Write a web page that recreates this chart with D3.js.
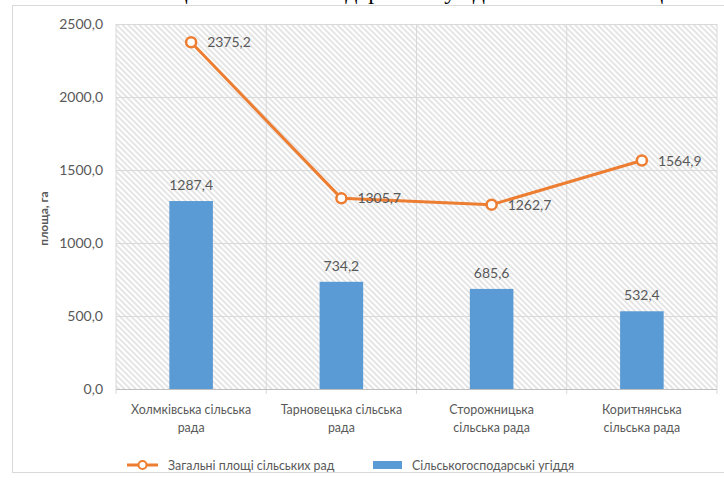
<!DOCTYPE html>
<html>
<head>
<meta charset="utf-8">
<script src="https://cdn.jsdelivr.net/npm/d3@7"></script>
<style>
  html, body { margin: 0; padding: 0; background: #fff; }
  svg { display: block; }
  text { font-family: Lato, "Open Sans", sans-serif; fill: #595959; }
</style>
</head>
<body>
<svg id="chart" width="724" height="487"></svg>
<script>
// chart data
const categories = [
  ["Холмківська сільська", "рада"],
  ["Тарновецька сільська", "рада"],
  ["Сторожницька", "сільська рада"],
  ["Коритнянська", "сільська рада"]
];
const totalArea = [2375.2, 1305.7, 1262.7, 1564.9];   // Загальні площі сільських рад
const farmland = [1287.4, 734.2, 685.6, 532.4];       // Сільськогосподарські угіддя
const yTicks = [0, 500, 1000, 1500, 2000, 2500];
const seriesNames = ["Загальні площі сільських рад", "Сільськогосподарські угіддя"];

const plot = { left: 116, right: 717, top: 24, bottom: 389 };
const orange = "#ED7D31", blue = "#5B9BD5";

const svg = d3.select("#chart");
const fmt = v => d3.format(".1f")(v).replace(".", ",");

// hatch pattern for plot background
const defs = svg.append("defs");
defs.append("pattern")
    .attr("id", "hatch")
    .attr("patternUnits", "userSpaceOnUse")
    .attr("width", 4).attr("height", 4)
    .attr("patternTransform", "rotate(-45)")
  .append("line")
    .attr("x1", 1).attr("y1", 0).attr("x2", 1).attr("y2", 4)
    .attr("stroke", "#d4d4d4").attr("stroke-width", 1.2);

// cut-off caption line of the page above the chart
svg.append("text")
    .attr("x", 128).attr("y", -1)
    .style("font-family", "'Liberation Serif', serif")
    .style("font-size", "24px")
    .style("fill", "#000")
    .text("Площа сільськогосподарських угідь і загальна площа сільських рад");

// chart frame
svg.append("rect")
    .attr("x", 12.5).attr("y", 5.5)
    .attr("width", 730).attr("height", 467)
    .attr("fill", "#fff")
    .attr("stroke", "#d9d9d9");

const x = d3.scaleBand()
    .domain(d3.range(categories.length))
    .range([plot.left, plot.right])
    .padding(0);

const y = d3.scaleLinear()
    .domain([0, 2500])
    .range([plot.bottom, plot.top]);

// plot background
svg.append("rect")
    .attr("x", plot.left).attr("y", plot.top)
    .attr("width", plot.right - plot.left)
    .attr("height", plot.bottom - plot.top)
    .attr("fill", "url(#hatch)");

// horizontal gridlines + labels
const yAxis = svg.append("g")
    .attr("transform", `translate(${plot.left},0)`)
    .call(d3.axisLeft(y).tickValues(yTicks).tickFormat(fmt)
        .tickSize(-(plot.right - plot.left)).tickPadding(13));
yAxis.select(".domain").remove();
yAxis.selectAll(".tick line").attr("stroke", "#d9d9d9");
yAxis.selectAll(".tick text")
    .style("font-size", "14px")
    .style("font-family", "Lato, sans-serif")
    .attr("fill", "#595959");

// vertical gridlines at band edges
const edges = d3.range(categories.length + 1).map(i => i < categories.length ? x(i) : x(i - 1) + x.bandwidth());
svg.append("g").selectAll("line")
    .data(edges)
    .join("line")
    .attr("x1", d => d).attr("x2", d => d)
    .attr("y1", plot.top).attr("y2", plot.bottom + 5)
    .attr("stroke", "#d9d9d9");

// x axis baseline
svg.append("line")
    .attr("x1", plot.left).attr("x2", plot.right)
    .attr("y1", plot.bottom + 0.5).attr("y2", plot.bottom + 0.5)
    .attr("stroke", "#bfbfbf");

// bars
const barW = x.bandwidth() * 0.29;
svg.append("g").selectAll("rect")
    .data(farmland)
    .join("rect")
    .attr("x", (d, i) => x(i) + x.bandwidth() / 2 - barW / 2)
    .attr("y", d => y(d))
    .attr("width", barW)
    .attr("height", d => y(0) - y(d))
    .attr("fill", blue);

svg.append("g").selectAll("text")
    .data(farmland)
    .join("text")
    .attr("x", (d, i) => x(i) + x.bandwidth() / 2)
    .attr("y", d => y(d) - 11)
    .attr("text-anchor", "middle")
    .style("font-size", "14px")
    .text(fmt);

// line series
const cx = i => x(i) + x.bandwidth() / 2;
svg.append("path")
    .datum(totalArea)
    .attr("fill", "none")
    .attr("stroke", orange)
    .attr("stroke-width", 3)
    .attr("stroke-linejoin", "round")
    .attr("d", d3.line().x((d, i) => cx(i)).y(d => y(d)));

svg.append("g").selectAll("circle")
    .data(totalArea)
    .join("circle")
    .attr("cx", (d, i) => cx(i))
    .attr("cy", d => y(d))
    .attr("r", 5)
    .attr("fill", "#fff")
    .attr("stroke", orange)
    .attr("stroke-width", 2.5);

svg.append("g").selectAll("text")
    .data(totalArea)
    .join("text")
    .attr("x", (d, i) => cx(i) + 16)
    .attr("y", d => y(d) + 5)
    .style("font-size", "14px")
    .text(fmt);

// category labels
const cat = svg.append("g").selectAll("text")
    .data(categories)
    .join("text")
    .attr("text-anchor", "middle")
    .style("font-size", "12.4px");
cat.selectAll("tspan")
    .data((d, i) => d.map(s => ({ s, i })))
    .join("tspan")
    .attr("x", d => cx(d.i))
    .attr("y", (d, j) => 414 + j * 18)
    .text(d => d.s);

// y axis title
svg.append("text")
    .attr("transform", `translate(48,${(plot.top + plot.bottom) / 2 + 12}) rotate(-90)`)
    .attr("text-anchor", "middle")
    .style("font-size", "12px")
    .style("font-weight", "bold")
    .text("площа, га");

// legend
const lg = svg.append("g");
lg.append("line")
    .attr("x1", 127).attr("x2", 158)
    .attr("y1", 465).attr("y2", 465)
    .attr("stroke", orange).attr("stroke-width", 3);
lg.append("circle")
    .attr("cx", 142.5).attr("cy", 465).attr("r", 4)
    .attr("fill", "#fff").attr("stroke", orange).attr("stroke-width", 2);
lg.append("text")
    .attr("x", 168).attr("y", 469.5)
    .style("font-size", "12.4px")
    .text(seriesNames[0]);
lg.append("rect")
    .attr("x", 373).attr("y", 461)
    .attr("width", 29).attr("height", 8)
    .attr("fill", blue);
lg.append("text")
    .attr("x", 412).attr("y", 469.5)
    .style("font-size", "12.4px")
    .text(seriesNames[1]);
</script>
</body>
</html>
